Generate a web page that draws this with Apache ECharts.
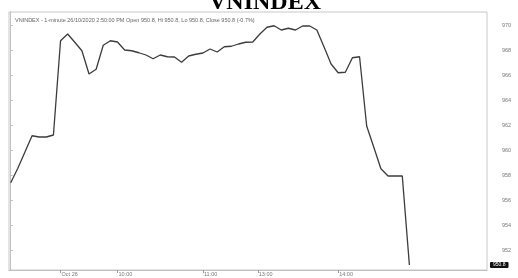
<!DOCTYPE html>
<html>
<head>
<meta charset="utf-8">
<script src="https://cdn.jsdelivr.net/npm/echarts@6/dist/echarts.min.js"></script>
<style>html,body{margin:0;padding:0;background:#fff;}#c{width:518px;height:278px;}</style>
</head>
<body>
<div id="c"></div>
<script>
const titleText = 'VNINDEX';
const headerText = 'VNINDEX - 1-minute 26/10/2020 2:50:00 PM Open 950.8, Hi 950.8, Lo 950.8, Close 950.8 (-0.7%)';
const prices = [
  957.38, 958.54, 959.84, 961.14, 961.04, 961.04, 961.2, 968.74, 969.28, 968.62,
  967.94, 966.08, 966.46, 968.38, 968.74, 968.64, 968.0, 967.94, 967.78, 967.6,
  967.3, 967.6, 967.46, 967.44, 967.02, 967.52, 967.66, 967.76, 968.08, 967.84,
  968.26, 968.3, 968.48, 968.62, 968.64, 969.28, 969.82, 969.94, 969.6, 969.74,
  969.6, 969.92, 969.92, 969.6, 968.26, 966.88, 966.18, 966.22, 967.38, 967.46,
  961.92, 960.22, 958.5, 957.92, 957.92, 957.92, 950.8
];
const xTickIndex = [7, 15, 27, 34.7, 46];
const xTickLabels = ['Oct 26', '10:00', '11:00', '13:00', '14:00'];
const yTicks = [952, 954, 956, 958, 960, 962, 964, 966, 968, 970];
const lastPrice = prices[prices.length - 1];

const chart = echarts.init(document.getElementById('c'));
chart.setOption({
  animation: false,
  title: [
    {text: titleText, left: 204, top: -14, textStyle: {fontFamily: 'Liberation Serif', fontSize: 24, fontWeight: 'bold', color: '#000'}},
    {text: headerText, left: 10, top: 12, textStyle: {fontFamily: 'Liberation Sans', fontSize: 5.5, fontWeight: 'normal', color: '#666'}}
  ],
  grid: {left: 9, right: 31, top: 12, bottom: 8, show: true, borderColor: '#c8c8c8', borderWidth: 1},
  xAxis: {
    type: 'value', min: -0.24, max: 66.9,
    axisLine: {show: true, lineStyle: {color: '#c0c0c0'}},
    splitLine: {show: false},
    axisTick: {show: true, customValues: xTickIndex, length: 3, lineStyle: {color: '#999'}},
    axisLabel: {
      customValues: xTickIndex,
      formatter: v => { const i = xTickIndex.indexOf(v); return i >= 0 ? xTickLabels[i] : ''; },
      fontSize: 5.5, color: '#777', fontFamily: 'Liberation Sans', margin: 1, align: 'left', padding: [0,0,0,1]
    }
  },
  yAxis: {
    type: 'value', position: 'right', min: 950.4, max: 971.04,
    axisLine: {show: true, lineStyle: {color: '#c0c0c0'}},
    splitLine: {show: false},
    axisTick: {show: true, inside: false, customValues: yTicks, length: 2, lineStyle: {color: '#bbb'}},
    axisLabel: {customValues: yTicks, fontSize: 5.5, color: '#777', fontFamily: 'Liberation Sans', margin: 15}
  },
  series: [{
    type: 'line',
    clip: false,
    data: prices.map((v, i) => [i, v]),
    symbol: 'none',
    lineStyle: {color: '#3c3c3c', width: 1.3},
    markLine: {
      silent: true, symbol: 'none',
      lineStyle: {color: 'rgba(0,0,0,0)', width: 0},
      data: [{yAxis: lastPrice}],
      label: {show: true, position: 'end', distance: 3, formatter: () => lastPrice.toFixed(1), color: '#fff', backgroundColor: '#111', fontSize: 5, fontFamily: 'Liberation Sans', padding: [1, 3, 0, 3], borderRadius: 1}
    }
  }]
});
</script>
</body>
</html>
